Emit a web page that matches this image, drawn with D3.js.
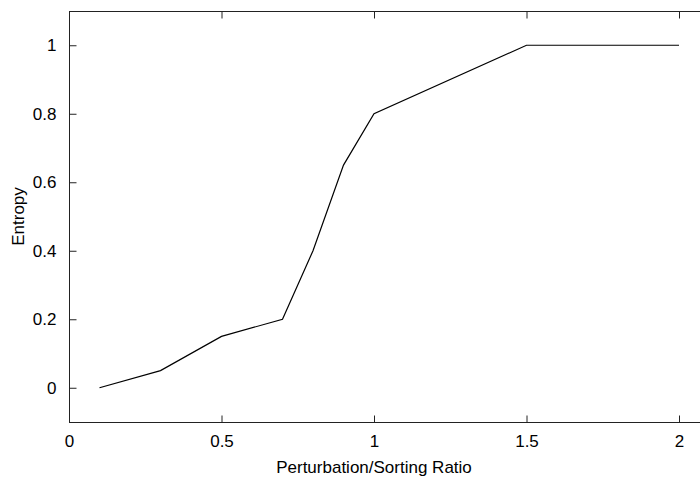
<html>
<head>
    <style>
        body { margin: 0; background: #fff; }
        svg { display: block; font-family: "Liberation Sans", Arial, sans-serif; }
    </style>
</head>
<body>
    <div id="chart"></div>
    <script src="https://d3js.org/d3.v7.min.js"></script>
    <script type="text/javascript">
        // data
        const ratios = [0.1, 0.3, 0.5, 0.7, 0.8, 0.9, 1.0, 1.5, 2.0];
        const entropy = [0, 0.05, 0.15, 0.2, 0.4, 0.65, 0.8, 1.0, 1.0];
        const xTicks = [0, 0.5, 1, 1.5, 2];
        const yTicks = [0, 0.2, 0.4, 0.6, 0.8, 1];

        const width = 700, height = 479;
        const plotLeft = 69, plotTop = 11, plotBottom = 422;

        const svg = d3.select('#chart').append('svg')
            .attr('width', width)
            .attr('height', height);

        // x axis runs past the right edge of the picture, like the original
        const x = d3.scaleLinear().domain([0, 2.2]).range([plotLeft, plotLeft + 671]);
        const y = d3.scaleLinear().domain([-0.1, 1.1]).range([plotBottom, plotTop]);

        const points = ratios.map((r, i) => [r, entropy[i]]);

        // frame
        svg.append('rect')
            .attr('x', plotLeft + 0.5).attr('y', plotTop + 0.5)
            .attr('width', x(2.2) - plotLeft).attr('height', plotBottom - plotTop)
            .attr('fill', 'none').attr('stroke', '#222').attr('stroke-width', 1);

        const tickLen = 7;
        const axisColor = '#222';
        const fontSize = '17px';

        // bottom axis, ticks inward
        const xb = svg.append('g').attr('transform', `translate(0,${plotBottom + 0.5})`)
            .call(d3.axisBottom(x).tickValues(xTicks).tickSize(-tickLen).tickPadding(tickLen + 5)
                .tickFormat(d3.format('')));
        // top axis ticks
        const xt = svg.append('g').attr('transform', `translate(0,${plotTop + 0.5})`)
            .call(d3.axisTop(x).tickValues(xTicks).tickSize(-tickLen).tickFormat(''));
        // left axis
        const yl = svg.append('g').attr('transform', `translate(${plotLeft + 0.5},0)`)
            .call(d3.axisLeft(y).tickValues(yTicks).tickSize(-tickLen).tickPadding(tickLen + 6)
                .tickFormat(d3.format('')));

        [xb, xt, yl].forEach(g => {
            g.select('.domain').remove();
            g.selectAll('line').attr('stroke', axisColor).attr('stroke-width', 1);
            g.selectAll('text').attr('fill', '#000').style('font-size', fontSize)
                .style('font-family', '"Liberation Sans", Arial, sans-serif');
        });
        xb.selectAll('text').attr('dy', '0.71em');

        // the line
        svg.append('path')
            .datum(points)
            .attr('fill', 'none')
            .attr('stroke', '#000')
            .attr('stroke-width', 1.2)
            .attr('d', d3.line().x(d => x(d[0])).y(d => y(d[1])));

        // axis labels
        svg.append('text')
            .attr('x', x(1)).attr('y', 473)
            .attr('text-anchor', 'middle')
            .style('font-size', fontSize)
            .text('Perturbation/Sorting Ratio');

        svg.append('text')
            .attr('transform', `translate(24,${y(0.5)}) rotate(-90)`)
            .attr('text-anchor', 'middle')
            .style('font-size', fontSize)
            .text('Entropy');
    </script>
</body>
</html>
